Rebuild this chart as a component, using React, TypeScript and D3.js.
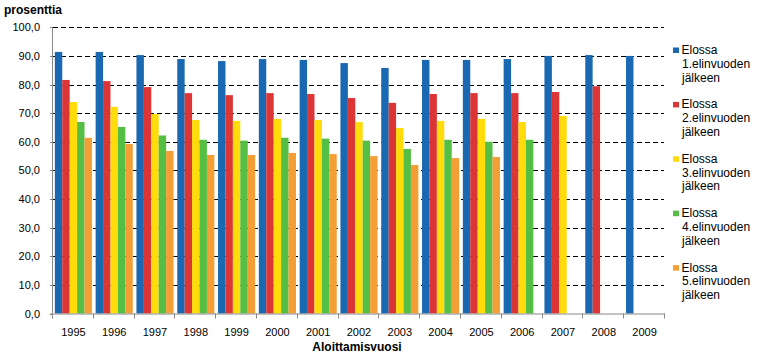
import React, { useEffect, useRef } from 'react';
import * as d3 from 'd3';

const years = ['1995', '1996', '1997', '1998', '1999', '2000', '2001', '2002', '2003', '2004', '2005', '2006', '2007', '2008', '2009'];

const seriesNames = [
  ['Elossa', '1.elinvuoden', 'jälkeen'],
  ['Elossa', '2.elinvuoden', 'jälkeen'],
  ['Elossa', '3.elinvuoden', 'jälkeen'],
  ['Elossa', '4.elinvuoden', 'jälkeen'],
  ['Elossa', '5.elinvuoden', 'jälkeen'],
];

const after1 = [91.4, 91.4, 90.3, 88.9, 88.2, 88.9, 88.6, 87.5, 85.8, 88.6, 88.6, 88.9, 90.0, 90.3, 90.0];
const after2 = [81.6, 81.2, 79.1, 77.0, 76.3, 77.0, 76.7, 75.3, 73.6, 76.7, 77.0, 77.0, 77.4, 79.4, null];
const after3 = [73.9, 72.2, 69.7, 67.6, 67.3, 68.0, 67.6, 66.9, 64.8, 67.3, 68.0, 66.9, 69.0, null, null];
const after4 = [66.9, 65.2, 62.2, 60.7, 60.4, 61.4, 61.1, 60.4, 57.5, 60.7, 60.0, 60.7, null, null, null];
const after5 = [61.4, 59.2, 56.8, 55.4, 55.4, 56.1, 55.7, 55.0, 51.9, 54.3, 54.7, null, null, null, null];

const yTicks = [0, 10, 20, 30, 40, 50, 60, 70, 80, 90, 100];
const colors = ['#1B68B2', '#DB3535', '#FFDC0A', '#55BE44', '#F49E36'];

const App = () => {
  const ref = useRef<SVGSVGElement>(null);

  useEffect(() => {
    const series = [after1, after2, after3, after4, after5];
    const svg = d3.select(ref.current);
    svg.selectAll('*').remove();

    const left = 53, right = 665, top = 27.3, bottom = 313.5;
    const x = d3.scaleBand().domain(years).range([left, right]).paddingInner(0.09).paddingOuter(0.045);
    const xs = d3.scaleBand().domain(d3.range(5).map(String)).range([0, x.bandwidth()]);
    const y = d3.scaleLinear().domain([0, 100]).range([bottom, top]);
    const font = '"Liberation Sans", Arial, sans-serif';

    // gridlines
    svg.append('g')
      .selectAll('line')
      .data(yTicks.filter(t => t > 0))
      .join('line')
      .attr('x1', left).attr('x2', right - 1)
      .attr('y1', d => Math.round(y(d)) + 0.5).attr('y2', d => Math.round(y(d)) + 0.5)
      .attr('stroke', '#000').attr('stroke-dasharray', '5,3');

    // bars
    series.forEach((vals, si) => {
      svg.append('g')
        .attr('fill', colors[si])
        .selectAll('rect')
        .data(years.map((yr, i) => ({ yr, v: vals[i] })).filter(d => d.v != null))
        .join('rect')
        .attr('x', d => x(d.yr)! + xs(String(si))!)
        .attr('width', xs.bandwidth())
        .attr('y', d => y(d.v as number))
        .attr('height', d => bottom - y(d.v as number));
    });

    // y axis
    const ya = svg.append('g');
    ya.append('line').attr('x1', left - 0.5).attr('x2', left - 0.5).attr('y1', top).attr('y2', bottom)
      .attr('stroke', '#888');
    ya.selectAll('line.t').data(yTicks).join('line').attr('class', 't')
      .attr('x1', left - 3).attr('x2', left)
      .attr('y1', d => Math.round(y(d)) + 0.5).attr('y2', d => Math.round(y(d)) + 0.5)
      .attr('stroke', '#888');
    ya.selectAll('text').data(yTicks).join('text')
      .attr('x', 40).attr('y', d => y(d) + 4)
      .attr('text-anchor', 'end')
      .style('font', `11px ${font}`)
      .text(d => d3.format('.1f')(d).replace('.', ','));

    // x axis
    const xa = svg.append('g');
    xa.append('line').attr('x1', left - 3).attr('x2', right).attr('y1', bottom + 0.5).attr('y2', bottom + 0.5)
      .attr('stroke', '#888');
    xa.selectAll('line.t').data(d3.range(years.length + 1)).join('line').attr('class', 't')
      .attr('x1', i => Math.round(left + i * x.step()) - 0.5).attr('x2', i => Math.round(left + i * x.step()) - 0.5)
      .attr('y1', bottom).attr('y2', bottom + 5)
      .attr('stroke', '#888');
    xa.selectAll('text').data(years).join('text')
      .attr('x', d => x(d)! + x.bandwidth() / 2).attr('y', 335.5)
      .attr('text-anchor', 'middle')
      .style('font', `11px ${font}`)
      .text(d => d);

    svg.append('text').attr('x', 4).attr('y', 13.5)
      .style('font', `bold 12px ${font}`).text('prosenttia');
    svg.append('text').attr('x', 357).attr('y', 351)
      .attr('text-anchor', 'middle')
      .style('font', `bold 12px ${font}`).text('Aloittamisvuosi');

    // legend
    const lg = svg.append('g').selectAll('g').data(seriesNames).join('g')
      .attr('transform', (_, i) => `translate(0,${54 + i * 54.4})`);
    lg.append('rect').attr('x', 673).attr('y', -6.5).attr('width', 6).attr('height', 5.5)
      .attr('fill', (_, i) => colors[i]);
    lg.each(function (lines) {
      const g = d3.select(this);
      lines.forEach((t, li) => {
        g.append('text').attr('x', li === 0 ? 681.5 : 682).attr('y', li * 13.8)
          .style('font', `12px ${font}`).text(t);
      });
    });
  }, []);

  return (
    <svg ref={ref} width={771} height={358}
      style={{ position: 'absolute', left: 0, top: 0, background: '#fff' }} />
  );
};

export default App;
